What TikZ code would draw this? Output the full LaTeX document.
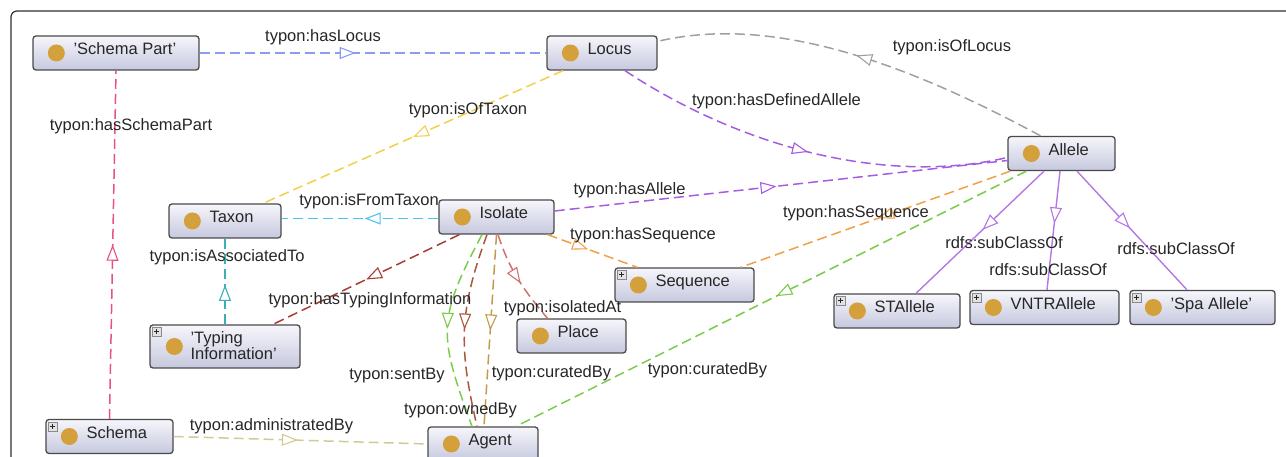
\documentclass[tikz,border=0pt]{standalone}
\usepackage{fontspec}
\setmainfont{Liberation Sans}
\usetikzlibrary{calc,arrows.meta,decorations.markings}

\definecolor{boxline}{HTML}{4A4A4A}
\definecolor{boxtop}{HTML}{F6F6FB}
\definecolor{boxbot}{HTML}{C6C8DE}
\definecolor{dotgold}{HTML}{D4A03C}
\definecolor{textgray}{HTML}{262626}
\definecolor{framegray}{HTML}{303030}
\definecolor{plusbg}{HTML}{E2E2E2}
\definecolor{plusline}{HTML}{8A8A8A}
\definecolor{locusblue}{HTML}{8C9CF0}
\definecolor{schpink}{HTML}{E8508C}
\definecolor{taxyellow}{HTML}{F2D04C}
\definecolor{taxcyan}{HTML}{4CC4F0}
\definecolor{assocteal}{HTML}{3AB0B4}
\definecolor{typred}{HTML}{A83C34}
\definecolor{allpurple}{HTML}{A45CE0}
\definecolor{locgray}{HTML}{A0A0A0}
\definecolor{seqorange}{HTML}{F0A046}
\definecolor{curgreen}{HTML}{7CCC4C}
\definecolor{placered}{HTML}{D07070}
\definecolor{ownbrown}{HTML}{A8583C}
\definecolor{curtan}{HTML}{C49A4C}
\definecolor{admkhaki}{HTML}{D2CA96}
\definecolor{subpurple}{HTML}{B478E4}

\tikzset{
  classbox/.style={draw=boxline, line width=1.3pt, rounded corners=3pt,
    top color=boxtop, bottom color=boxbot, minimum height=34pt, inner sep=0pt},
  classtext/.style={inner sep=0pt, text=textgray, font=\fontsize{16.5}{16}\selectfont},
  edgelbl/.style={inner sep=0pt, text=textgray, font=\fontsize{16.5}{16}\selectfont},
  rel/.style={line width=1.5pt, dash pattern=on 10pt off 5pt},
  subrel/.style={line width=1.4pt},
  midtri/.style={postaction={decorate, decoration={markings,
    mark=at position #1 with {\arrow[solid, line width=1.1pt]{Triangle[length=16pt, width=12pt, fill=white]}}}}},
  midtri/.default=0.5
}

\newcommand{\owlclass}[5][]{%
  \node[classbox, minimum width=#4, #1] (#2) at (#3) {};
  \fill[dotgold] ($(#2.west)+(24,0)$) circle (8.5);
  \node[classtext, anchor=base west] (#2-txt) at ($(#2.west)+(41,-2)$) {#5};
}
\newcommand{\owlplus}[1]{%
  \draw[fill=plusbg, draw=plusline, line width=0.6pt] ($(#1.north west)+(3,-3)$) rectangle ++(9,-9);
  \draw[line width=1pt, textgray] ($(#1.north west)+(7.5,-5)$) -- ++(0,-5) ($(#1.north west)+(5,-7.5)$) -- ++(5,0);
}

\begin{document}
\begin{tikzpicture}[x=1pt, y=1pt]
  \useasboundingbox (0,0) rectangle (1286,457);
  \clip (0,0) rectangle (1286,457);

  %%%%% frame %%%%%
  \draw[framegray, line width=1.2pt, rounded corners=6pt] (1300,446) -- (11,446) -- (11,-20);

  %%%%% classes %%%%%
  \owlclass{schpart}{116,404}{166}{'Schema Part'}
  \owlclass{locus}{602,404}{110}{Locus}
  \owlclass{allele}{1061.5,303.5}{107}{Allele}
  \owlclass{taxon}{225,236}{112}{Taxon}
  \owlclass{isolate}{496.5,240}{115}{Isolate}
  \owlclass{sequence}{684.5,172}{139}{Sequence}
  \owlclass{stallele}{897,146}{126}{STAllele}
  \owlclass{vntrallele}{1044.5,149.5}{149}{VNTRAllele}
  \owlclass{spaallele}{1202.5,149.5}{145}{'Spa Allele'}
  \owlclass{place}{571.5,121}{109}{Place}
  \owlclass{schema}{109.5,20.5}{127}{Schema}
  \owlclass{agent}{483,13}{110}{Agent}

  \node[classbox, minimum width=150, minimum height=43] (typing) at (225,110.5) {};
  \fill[dotgold] ($(typing.west)+(25,0)$) circle (8.5);
  \node[classtext, anchor=west, align=left] (typing-txt) at ($(typing.west)+(41,1)$) {'Typing\\Information'};

  \owlplus{sequence}
  \owlplus{typing}
  \owlplus{schema}
  \owlplus{stallele}
  \owlplus{vntrallele}
  \owlplus{spaallele}

  %%%%% object properties %%%%%
  \draw[rel, locusblue, midtri=0.45] (schpart.east) -- (locus.west);
  \draw[rel, schpink, midtri] (schema.north) -- (schpart.south);
  \draw[rel, taxyellow, midtri] ([xshift=-39]locus.south) -- ([xshift=38]taxon.north);
  \draw[rel, taxcyan, midtri=0.47] ([yshift=-1.5]isolate.west) -- ([yshift=2.5]taxon.east);
  \draw[rel, assocteal, midtri=0.46] (typing.north) -- (taxon.south);
  \draw[rel, typred, midtri] ([xshift=21]isolate.south west) -- ([xshift=48]typing.north);
  \draw[rel, allpurple, midtri=0.49] ([yshift=6]isolate.east) -- ([yshift=-7]allele.west);
  \draw[rel, allpurple, midtri] ([xshift=23]locus.south) .. controls (745,307) and (890,272) .. ([yshift=-4]allele.west);
  \draw[rel, locgray, midtri] ([xshift=-21]allele.north) .. controls (900,397) and (770,442) .. ([yshift=-6]locus.north east);
  \draw[rel, seqorange, midtri=0.45] ([xshift=-7]isolate.south east) -- ([xshift=-47]sequence.north);
  \draw[rel, seqorange, midtri=0.49] ([xshift=3]allele.south west) -- ([xshift=-14]sequence.north east);
  \draw[rel, curgreen, midtri=0.49] ([xshift=19]allele.south west) -- ([xshift=33]agent.north);
  \draw[rel, placered, midtri=0.55] ([xshift=1.5]isolate.south) to[out=-72, in=130] ([xshift=-24]place.north);
  \draw[rel, curgreen, midtri] ([xshift=-14.5]isolate.south) to[out=-118, in=110, looseness=1.3] ([xshift=-11]agent.north);
  \draw[rel, ownbrown, midtri] ([xshift=-9.5]isolate.south) to[out=-110, in=103, looseness=1.1] ([xshift=-6]agent.north);
  \draw[rel, curtan, midtri] (isolate.south) -- ([xshift=1]agent.north);
  \draw[rel, admkhaki, midtri=0.49] (schema.east) -- (agent.west);

  %%%%% subclasses %%%%%
  \draw[subrel, subpurple, midtri=0.48] ([xshift=-17.5]allele.south) -- ([xshift=19]stallele.north);
  \draw[subrel, subpurple, midtri=0.44] ([xshift=-1.5]allele.south) -- ([xshift=2.5]vntrallele.north);
  \draw[subrel, subpurple, midtri=0.48] ([xshift=15.5]allele.south) -- ([xshift=-15.5]spaallele.north);

  %%%%% labels %%%%%
  \node[edgelbl] (l-haslocus) at (323,420) {typon:hasLocus};
  \node[edgelbl] (l-hasschemapart) at (131,331) {typon:hasSchemaPart};
  \node[edgelbl] (l-isoftaxon) at (468,347) {typon:isOfTaxon};
  \node[edgelbl] (l-isfromtaxon) at (369,256) {typon:isFromTaxon};
  \node[edgelbl] (l-isassoc) at (227,200) {typon:isAssociatedTo};
  \node[edgelbl] (l-hastyping) at (370,157) {typon:hasTypingInformation};
  \node[edgelbl] (l-hasallele) at (629.5,267) {typon:hasAllele};
  \node[edgelbl] (l-hasdefallele) at (776.5,356) {typon:hasDefinedAllele};
  \node[edgelbl] (l-isoflocus) at (952,410) {typon:isOfLocus};
  \node[edgelbl] (l-hasseqiso) at (643,222) {typon:hasSequence};
  \node[edgelbl] (l-hasseqall) at (856,244) {typon:hasSequence};
  \node[edgelbl] (l-curatedall) at (707.5,87) {typon:curatedBy};
  \node[edgelbl] (l-isolatedat) at (562.5,149) {typon:isolatedAt};
  \node[edgelbl] (l-sentby) at (397,81) {typon:sentBy};
  \node[edgelbl] (l-ownedby) at (460.5,47) {typon:ownedBy};
  \node[edgelbl] (l-curatediso) at (551.5,84) {typon:curatedBy};
  \node[edgelbl] (l-adminby) at (271.5,31) {typon:administratedBy};
  \node[edgelbl] (l-subst) at (1004,214) {rdfs:subClassOf};
  \node[edgelbl] (l-subvntr) at (1048,187) {rdfs:subClassOf};
  \node[edgelbl] (l-subspa) at (1176,208) {rdfs:subClassOf};
\end{tikzpicture}
\end{document}
